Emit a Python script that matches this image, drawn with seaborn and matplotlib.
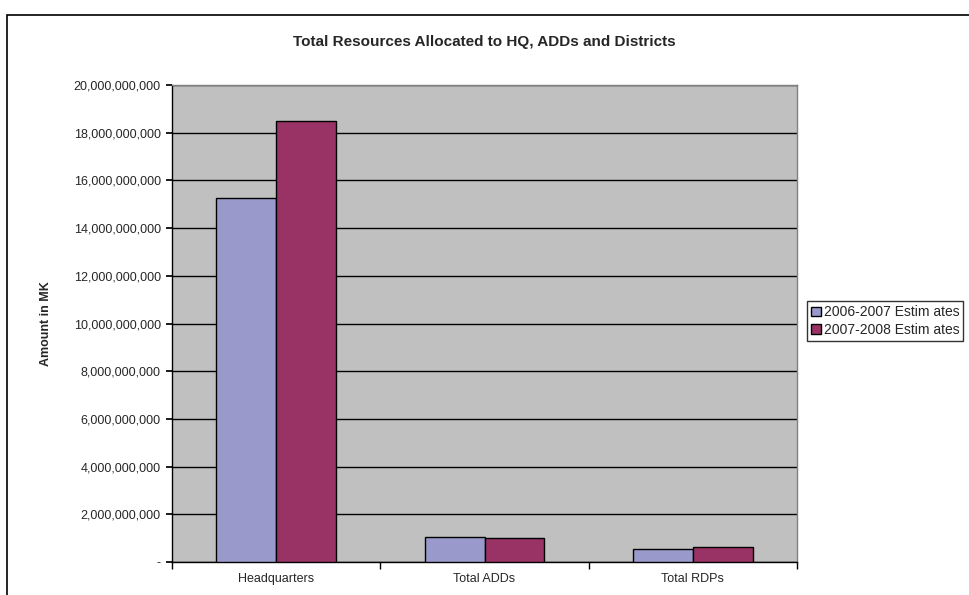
import pandas as pd
import seaborn as sns
import matplotlib.pyplot as plt
from matplotlib.ticker import FuncFormatter, FixedLocator
from matplotlib.patches import Rectangle

categories = ["Headquarters", "Total ADDs", "Total RDPs"]
est_2006 = [15_250_000_000, 1_060_000_000, 530_000_000]
est_2007 = [18_480_000_000, 990_000_000, 640_000_000]
series = ["2006-2007 Estimates", "2007-2008 Estimates"]
legend_labels = ["2006-2007 Estim ates", "2007-2008 Estim ates"]

df = pd.DataFrame({
    "category": categories * 2,
    "series": [series[0]] * 3 + [series[1]] * 3,
    "amount": est_2006 + est_2007,
})

sns.set_theme(style="white")
plt.rcParams["font.family"] = ["Liberation Sans", "DejaVu Sans"]

fig = plt.figure(figsize=(9.69, 5.95), dpi=100)
ax = fig.add_axes([0.1775, 0.0555, 0.645, 0.8015])

palette = {series[0]: "#9999CC", series[1]: "#993366"}
sns.barplot(data=df, x="category", y="amount", hue="series", palette=palette,
            width=0.575, edgecolor="black", linewidth=1.0, saturation=1,
            ax=ax, zorder=3)

ax.set_facecolor("#C0C0C0")
ax.set_ylim(0, 20_000_000_000)
ax.set_xlim(-0.5, 2.5)
ax.set_yticks(range(0, 20_000_000_001, 2_000_000_000))
ax.yaxis.set_major_formatter(FuncFormatter(lambda v, p: "-" if v == 0 else f"{int(v):,}"))
ax.yaxis.grid(True, color="black", linewidth=1.0)
ax.set_axisbelow(True)
for s in ["left", "bottom"]:
    ax.spines[s].set_color("black")
    ax.spines[s].set_linewidth(1.0)
for s in ["top", "right"]:
    ax.spines[s].set_color("#808080")
    ax.spines[s].set_linewidth(1.0)

ax.tick_params(axis="y", which="major", length=4, direction="out", left=True,
               labelsize=9, color="black", pad=4)
ax.tick_params(axis="x", which="major", length=0, labelsize=9, pad=8)
ax.xaxis.set_minor_locator(FixedLocator([-0.5, 0.5, 1.5, 2.5]))
ax.tick_params(axis="x", which="minor", length=5, direction="out", bottom=True, color="black")

ax.set_xlabel("")
ax.set_ylabel("Amount in MK", fontsize=9, fontweight="bold", labelpad=16)
fig.text(0.5, 0.93, "Total Resources Allocated to HQ, ADDs and Districts",
         ha="center", va="center", fontsize=11, fontweight="bold")

handles, _ = ax.get_legend_handles_labels()
ax.legend(handles, legend_labels, loc="center left", bbox_to_anchor=(1.016, 0.505),
          fontsize=10, frameon=True, fancybox=False, edgecolor="black",
          handlelength=0.7, handleheight=0.7, handletextpad=0.2,
          borderpad=0.3, labelspacing=0.25, borderaxespad=0)
ax.get_legend().get_frame().set_linewidth(1.0)

fig.patches.append(Rectangle((0.007, -0.05), 1.1, 1.025, transform=fig.transFigure,
                             fill=False, edgecolor="black", linewidth=1.2))

fig.savefig("out.png", dpi=100)
